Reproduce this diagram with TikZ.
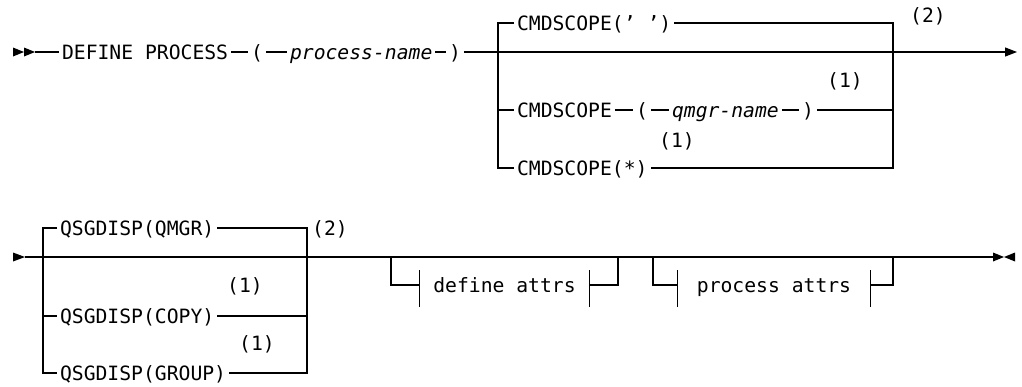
\documentclass[tikz,border=0pt]{standalone}
\usepackage{fontspec}
\newfontfamily\rrfont{DejaVu Sans Mono}
\usetikzlibrary{arrows.meta,positioning}

\begin{document}
\begin{tikzpicture}[x=1pt, y=-1pt,
    line width=1.1pt,
    kw/.style={font=\rrfont\fontsize{19.7}{20}\selectfont, inner xsep=2.5pt, inner ysep=0pt, text height=14.4pt, text depth=0pt},
    var/.style={kw, font=\rrfont\itshape\fontsize{19.7}{20}\selectfont},
    note/.style={kw, inner xsep=0pt},
    frag/.style={kw, inner xsep=0pt},
    endtip/.style={-{Triangle[length=12pt,width=9pt]}}
]
\useasboundingbox (0,0) rectangle (1022,386);

% Top line
\coordinate (s1) at (35,52);
\fill (13,47.5) -- (24,52) -- (13,56.5) -- cycle;
\fill (24,47.5) -- (35,52) -- (24,56.5) -- cycle;
\node[kw, anchor=west] (defp) at (59,52) {DEFINE PROCESS};
\node[kw] (lp1) at (257,52) {(};
\node[var, anchor=west] (pname) at (287,52) {process-name};
\node[kw] (rp1) at (455,52) {)};
\coordinate (jl) at (498,52);
\coordinate (jr) at (893,52);
\coordinate (e1) at (1017,52);

% CMDSCOPE choices
\node[kw, anchor=west] (cs1) at (514,23) {CMDSCOPE(’ ’)};
\node[kw, anchor=west] (cs2) at (514,110) {CMDSCOPE};
\node[kw] (lp2) at (642,110) {(};
\node[var, anchor=west] (qname) at (669,110) {qmgr-name};
\node[kw] (rp2) at (808,110) {)};
\node[kw, anchor=west] (cs3) at (514,168) {CMDSCOPE(*)};
\node[note] (n1) at (845,80) {(1)};
\node[note] (n2) at (677,140) {(1)};
\node[note] (n3) at (928,15) {(2)};

\draw (s1) -- (defp.west);
\draw (defp.east) -- (lp1.west);
\draw (lp1.east) -- (pname.west);
\draw (pname.east) -- (rp1.west);
\draw[endtip] (rp1.east) -- (e1);

\draw (cs1.west) -| (jl) |- (cs3.west);
\draw (jl |- cs2.west) -- (cs2.west);
\draw (cs2.east) -- (lp2.west);
\draw (lp2.east) -- (qname.west);
\draw (qname.east) -- (rp2.west);
\draw (rp2.east) -- (rp2.east -| jr);
\draw (cs1.east) -| (jr) |- (cs3.east);

% Bottom line
\coordinate (s2) at (25,257);
\fill (13,252.5) -- (25,257) -- (13,261.5) -- cycle;
\coordinate (bl) at (43,257);
\coordinate (br) at (307,257);
\coordinate (e2) at (993,257);
\fill (993,252.5) -- (1004,257) -- (993,261.5) -- cycle;
\fill (1015,252.5) -- (1004,257) -- (1015,261.5) -- cycle;

% QSGDISP choices
\node[kw, anchor=west] (qs1) at (57,228) {QSGDISP(QMGR)};
\node[kw, anchor=west] (qs2) at (57,316) {QSGDISP(COPY)};
\node[kw, anchor=west] (qs3) at (57,373) {QSGDISP(GROUP)};
\node[note] (n4) at (245,285) {(1)};
\node[note] (n5) at (257,343) {(1)};
\node[note] (n6) at (330,228) {(2)};

\draw (s2) -- (e2);
\draw (qs1.west) -| (bl) |- (qs3.west);
\draw (bl |- qs2.west) -- (qs2.west);
\draw (qs1.east) -| (br) |- (qs3.east);
\draw (qs2.east) -- (qs2.east -| br);

% Fragments
\node[frag] (dattr) at (504.5,285) {define attrs};
\node[frag] (pattr) at (774,285) {process attrs};
\coordinate (d1) at (391,257);
\coordinate (d2) at (618,257);
\coordinate (p1) at (653,257);
\coordinate (p2) at (893,257);
\coordinate (p3) at (922,257);

\draw (d1) |- ([xshift=-13pt]dattr.west);
\draw ([xshift=13pt]dattr.east) -| (d2);
\draw ([xshift=-13pt,yshift=15pt]dattr.west) -- ([xshift=-13pt,yshift=-22pt]dattr.west);
\draw ([xshift=13pt,yshift=15pt]dattr.east) -- ([xshift=13pt,yshift=-22pt]dattr.east);
\draw (p1) |- ([xshift=-19pt]pattr.west);
\draw ([xshift=19pt]pattr.east) -| (p2);
\draw ([xshift=-19pt,yshift=15pt]pattr.west) -- ([xshift=-19pt,yshift=-22pt]pattr.west);
\draw ([xshift=19pt,yshift=15pt]pattr.east) -- ([xshift=19pt,yshift=-22pt]pattr.east);
\draw[line width=2.4pt] (p2) -- (p3);

\end{tikzpicture}
\end{document}
